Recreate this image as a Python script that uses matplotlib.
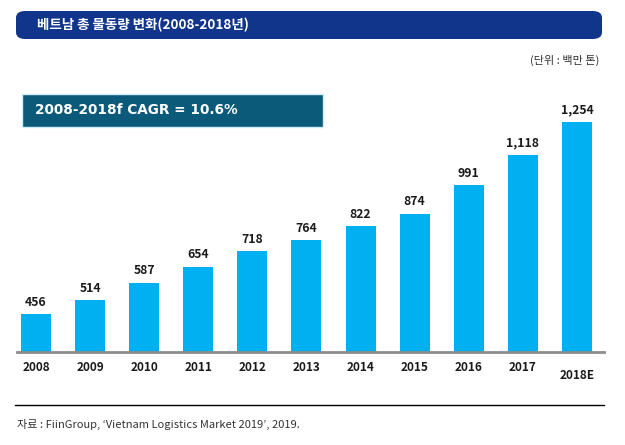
import matplotlib.pyplot as plt
from matplotlib.patches import FancyBboxPatch, Rectangle
from matplotlib.lines import Line2D

plt.rcParams['font.family'] = ['Noto Sans CJK KR', 'DejaVu Sans']

years = ['2008', '2009', '2010', '2011', '2012', '2013', '2014', '2015', '2016', '2017', '2018E']
volumes = [456, 514, 587, 654, 718, 764, 822, 874, 991, 1118, 1254]
value_labels = ['456', '514', '587', '654', '718', '764', '822', '874', '991', '1,118', '1,254']

W, H = 625, 445
fig = plt.figure(figsize=(W / 100, H / 100), dpi=100)

def fx(px):
    return px / W

def fy(py):
    return 1 - py / H

# header bar
hdr = FancyBboxPatch((fx(16), fy(39)), fx(586), 28 / H,
                     boxstyle="round,pad=0,rounding_size=0.015",
                     transform=fig.transFigure, facecolor='#10358a', edgecolor='none')
fig.patches.append(hdr)
fig.text(fx(37), fy(25), '베트남 총 물동량 변화(2008-2018년)', color='white',
         fontsize=9.7, fontweight='bold', va='center', ha='left')

fig.text(fx(599), fy(60), '(단위 : 백만 톤)', color='#333333', fontsize=8,
         ha='right', va='center')

# bars
ax = fig.add_axes([fx(17), fy(352), fx(587), 252 / H])
x = list(range(len(years)))
ax.bar(x, volumes, width=0.555, color='#00b0f0')
ax.set_xlim(-0.351, 10.5)
ax.set_ylim(300, 1345)
for s in ['top', 'right', 'left']:
    ax.spines[s].set_visible(False)
ax.spines['bottom'].set_color('#8c8c8c')
ax.spines['bottom'].set_linewidth(2)
ax.set_yticks([])
ax.set_xticks([])
for i, v in enumerate(volumes):
    ax.annotate(value_labels[i], (i, v), xytext=(0, 4), textcoords='offset points',
                ha='center', va='bottom', fontsize=8.8, color='#1a1a1a',
                fontweight='semibold')
    dy = -17 if years[i] == '2018E' else -11
    ax.annotate(years[i], (i, 300), xytext=(0, dy), textcoords='offset points',
                ha='center', va='center', fontsize=8.5, color='#1a1a1a',
                fontweight='semibold', annotation_clip=False)

# CAGR box
box = Rectangle((fx(22), fy(127)), fx(301), 33 / H, transform=fig.transFigure,
                facecolor='#0b5a7a', edgecolor='#cdeef8', linewidth=1)
fig.patches.append(box)
fig.text(fx(35), fy(110.5), '2008-2018f CAGR = 10.6%', color='white', fontsize=9.8,
         fontweight='bold', va='center', ha='left', family=['DejaVu Sans'])

# bottom rule and source
fig.lines.append(Line2D([fx(15), fx(604)], [fy(405), fy(405)], transform=fig.transFigure,
                        color='black', linewidth=1))
fig.text(fx(17), fy(424), '자료 : FiinGroup, ‘Vietnam Logistics Market 2019’, 2019.',
         color='#333333', fontsize=8, ha='left', va='center')

fig.savefig('out.png', dpi=100)
